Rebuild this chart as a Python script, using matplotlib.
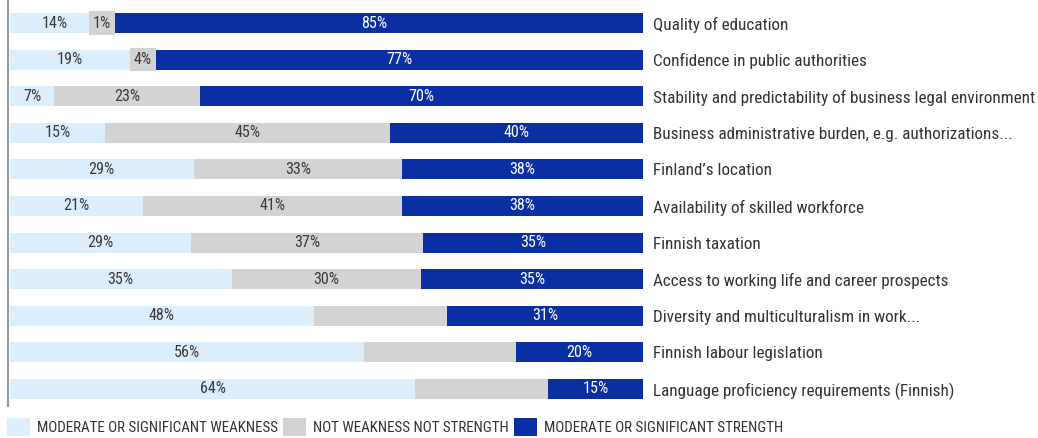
import matplotlib
matplotlib.use("Agg")
import matplotlib.pyplot as plt
from matplotlib.patches import Patch

categories = [
    "Quality of education",
    "Confidence in public authorities",
    "Stability and predictability of business legal environment",
    "Business administrative burden, e.g. authorizations...",
    "Finland\u2019s location",
    "Availability of skilled workforce",
    "Finnish taxation",
    "Access to working life and career prospects",
    "Diversity and multiculturalism in work...",
    "Finnish labour legislation",
    "Language proficiency requirements (Finnish)",
]
weakness = [14, 19, 7, 15, 29, 21, 28.6, 35, 48, 56, 64]
neutral = [1, 4, 23, 45, 33, 41, 36.7, 30, 21, 24, 21]
strength = [85, 77, 70, 40, 38, 38, 34.7, 35, 31, 20, 15]
show_neutral_label = [True, True, True, True, True, True, True, True, False, False, False]
legend_labels = ["MODERATE OR SIGNIFICANT WEAKNESS", "NOT WEAKNESS NOT STRENGTH",
                 "MODERATE OR SIGNIFICANT STRENGTH"]

C_WEAK = "#dcedfb"
C_NEUT = "#d3d3d3"
C_STR = "#0a2fa3"
TXT = "#3a3a3a"

plt.rcParams["font.family"] = ["Roboto Condensed", "DejaVu Sans"]
plt.rcParams["font.stretch"] = "condensed"

W, H = 1038, 438
fig = plt.figure(figsize=(W / 100, H / 100), dpi=100)
renderer = fig.canvas.get_renderer()


def fit_size(text, target_px, base=10.0):
    t = fig.text(0, 0, text, fontsize=base)
    w = t.get_window_extent(renderer).width
    t.remove()
    return base * target_px / w


fs_cat = fit_size(categories[2], 380)
fs_leg = fit_size(legend_labels[0], 243)
fs_val = fit_size("14%", 26)

ax = fig.add_axes([8 / W, 1 - 406 / H, (643 - 8) / W, 406 / H])

n = len(categories)
ys = list(range(n))
bh = 0.55
lefts_n = [w for w in weakness]
lefts_s = [w + m for w, m in zip(weakness, neutral)]

ax.barh(ys, weakness, left=0, height=bh, color=C_WEAK, linewidth=0)
ax.barh(ys, neutral, left=lefts_n, height=bh, color=C_NEUT, linewidth=0)
ax.barh(ys, strength, left=lefts_s, height=bh, color=C_STR, linewidth=0)

for i in range(n):
    ax.text(weakness[i] / 2, ys[i], f"{weakness[i]:.0f}%", ha="center", va="center",
            color=TXT, fontsize=fs_val)
    if show_neutral_label[i]:
        kw = {}
        if neutral[i] < 6:
            kw["bbox"] = dict(boxstyle="square,pad=0.25", fc=C_NEUT, ec="none")
        ax.text(lefts_n[i] + neutral[i] / 2, ys[i], f"{neutral[i]:.0f}%", ha="center",
                va="center", color=TXT, fontsize=fs_val, **kw)
    ax.text(lefts_s[i] + strength[i] / 2, ys[i], f"{strength[i]:.0f}%", ha="center",
            va="center", color="white", fontsize=fs_val)

ax.set_xlim(-2 / 6.35, 100)
ax.set_ylim(10 + 17 / 36.6, -23 / 36.6)
ax.set_xticks([])
ax.yaxis.tick_right()
ax.set_yticks(ys)
ax.set_yticklabels(categories, fontsize=fs_cat, color="#333333")
ax.tick_params(axis="y", length=0, pad=7.2)
for s in ["top", "right", "bottom"]:
    ax.spines[s].set_visible(False)
ax.spines["left"].set_color("#9a9a9a")
ax.spines["left"].set_linewidth(1.5)

handles = [Patch(facecolor=c, edgecolor="none") for c in (C_WEAK, C_NEUT, C_STR)]
hl = 23 / (fs_leg * 100 / 72)
fig.legend(handles, legend_labels, loc="center left", bbox_to_anchor=(7 / W, 1 - 427 / H),
           ncol=3, frameon=False, fontsize=fs_leg, handlelength=hl, handleheight=hl,
           handletextpad=0.45, columnspacing=0.35, borderpad=0, borderaxespad=0,
           labelcolor="#333333")

fig.savefig("out.png", dpi=100)
